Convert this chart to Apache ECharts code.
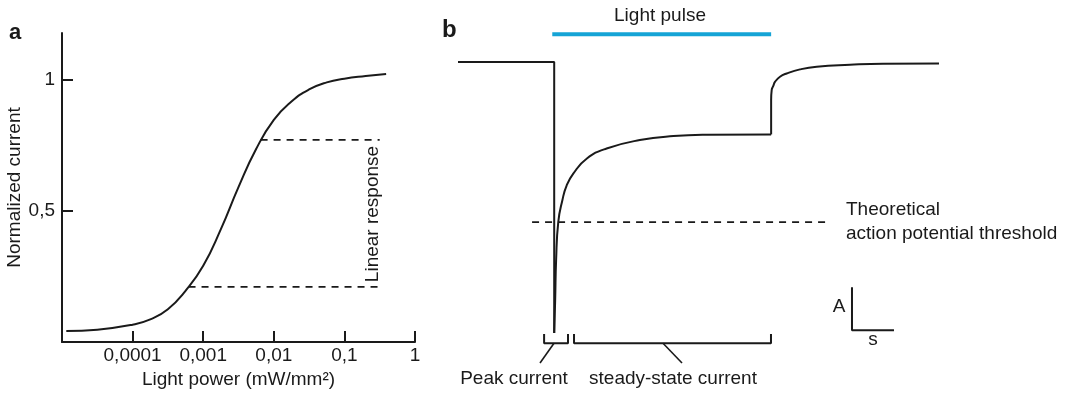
<!DOCTYPE html>
<html>
<head>
<meta charset="utf-8">
<script src="https://cdn.jsdelivr.net/npm/echarts@6/dist/echarts.min.js"></script>
<style>
    html, body {
        margin: 0;
        padding: 0;
        background: #ffffff;
    }
    #chart {
        width: 1070px;
        height: 394px;
    }
</style>
</head>
<body>
<div id="chart"></div>
<script>
// panel a: light power (mW/mm²) vs normalized current
const lightPower = [0.0000115, 0.0000316, 0.0001, 0.000178, 0.000316, 0.000562, 0.001, 0.00178, 0.00316,
    0.00562, 0.01, 0.0178, 0.0316, 0.0562, 0.1, 0.2, 0.39];
const normalizedCurrent = [0.042, 0.047, 0.066, 0.086, 0.125, 0.195, 0.29, 0.43, 0.59,
    0.735, 0.846, 0.916, 0.962, 0.989, 1.003, 1.013, 1.021];
const powerTicks = [0.0001, 0.001, 0.01, 0.1, 1];
const powerTickLabels = ['0,0001', '0,001', '0,01', '0,1', '1'];
const currentTicks = [0.5, 1];
const currentTickLabels = ['0,5', '1'];
const linearLow = [[0.00062, 0.21], [0.316, 0.21]];
const linearHigh = [[0.0065, 0.77], [0.316, 0.77]];

// panel b: photocurrent trace, time (a.u.) vs current (normalized to peak)
const traceStep = [[0, 0], [200, 0], [200, -1.0]];
const recoveryTime = [200, 202, 204, 208.5, 217, 226, 240, 268, 309, 378, 448, 517, 651];
const recoveryCurrent = [-1.0, -0.88, -0.73, -0.59, -0.51, -0.455, -0.411, -0.356, -0.319, -0.288, -0.273, -0.268, -0.267];
const offStep = [[651, -0.267], [651, -0.14]];
const offTime = [651, 652.2, 655.5, 659, 669.4, 683.4, 711, 745.7, 815, 883.6, 1000];
const offCurrent = [-0.14, -0.103, -0.088, -0.073, -0.054, -0.042, -0.027, -0.017, -0.01, -0.006, -0.005];
const lightPulse = [[196, 0.103], [651, 0.103]];
const threshold = [[154, -0.591], [769, -0.591]];
const peakBracket = [[179, -1.004], [179, -1.038], [228.7, -1.038], [228.7, -1.004]];
const peakPointer = [[199.6, -1.038], [170.5, -1.111]];
const steadyBracket = [[241.2, -1.004], [241.2, -1.038], [650.7, -1.038], [650.7, -1.004]];
const steadyPointer = [[426.2, -1.038], [465.7, -1.111]];
const scaleBar = [[819.1, -0.831], [819.1, -0.99], [906.4, -0.99]];

const ink = '#1a1a1a';
const font = 'Liberation Sans, Arial, Helvetica, sans-serif';

let chartDom = document.getElementById('chart');
let myChart = echarts.init(chartDom, null, {renderer: 'canvas'});

function zip(xs, ys) {
    let out = [];
    for (let i = 0; i < xs.length; i++) {
        out.push([xs[i], ys[i]]);
    }
    return out;
}

function powerLabel(value) {
    for (let i = 0; i < powerTicks.length; i++) {
        if (Math.abs(Math.log10(value) - Math.log10(powerTicks[i])) < 1e-6) {
            return powerTickLabels[i];
        }
    }
    return '';
}

function currentLabel(value) {
    for (let i = 0; i < currentTicks.length; i++) {
        if (Math.abs(value - currentTicks[i]) < 1e-6) {
            return currentTickLabels[i];
        }
    }
    return '';
}

function traceLine(data, smooth, extra) {
    return Object.assign({
        type: 'line',
        xAxisIndex: 1,
        yAxisIndex: 1,
        data: data,
        symbol: 'none',
        smooth: smooth,
        clip: false,
        silent: true,
        lineStyle: {color: ink, width: 2}
    }, extra || {});
}

function text(str, x, y, opts) {
    return {
        type: 'text',
        x: x,
        y: y,
        rotation: opts.rotation || 0,
        style: {
            text: str,
            fill: ink,
            font: (opts.weight || 'normal') + ' ' + (opts.size || 19) + 'px ' + font,
            align: opts.align || 'left',
            verticalAlign: 'middle'
        }
    };
}

let option = {
    animation: false,
    backgroundColor: '#ffffff',
    textStyle: {fontFamily: font, color: ink},
    grid: [
        {left: 62, top: 33, width: 353, height: 309},
        {left: 458, top: 35, width: 481, height: 325}
    ],
    xAxis: [{
        type: 'log',
        gridIndex: 0,
        logBase: 10,
        min: 0.00001,
        max: 1,
        splitNumber: 5,
        name: 'Light power (mW/mm²)',
        nameLocation: 'middle',
        nameGap: 27,
        nameTextStyle: {fontSize: 19, color: ink, fontFamily: font},
        axisLine: {lineStyle: {color: ink, width: 2}},
        axisTick: {inside: true, length: 11, lineStyle: {color: ink, width: 2}},
        axisLabel: {margin: 4, fontSize: 19, color: ink, fontFamily: font, formatter: powerLabel},
        splitLine: {show: false},
        minorTick: {show: false}
    }, {
        type: 'value',
        gridIndex: 1,
        min: 0,
        max: 1000,
        show: false
    }],
    yAxis: [{
        type: 'value',
        gridIndex: 0,
        min: 0,
        max: 1.177,
        name: 'Normalized current',
        nameLocation: 'middle',
        nameRotate: 90,
        nameGap: 35,
        nameTextStyle: {fontSize: 19, color: ink, fontFamily: font},
        axisLine: {show: true, lineStyle: {color: ink, width: 2}},
        axisTick: {show: true, inside: true, length: 11, customValues: currentTicks, lineStyle: {color: ink, width: 2}},
        axisLabel: {margin: 7, fontSize: 19, color: ink, fontFamily: font, customValues: currentTicks, formatter: currentLabel},
        splitLine: {show: false}
    }, {
        type: 'value',
        gridIndex: 1,
        min: -1.1,
        max: 0.1,
        show: false
    }],
    series: [
        {
            type: 'line',
            data: zip(lightPower, normalizedCurrent),
            symbol: 'none',
            smooth: 0.5,
            silent: true,
            lineStyle: {color: ink, width: 2}
        },
        {
            type: 'line',
            data: linearLow,
            symbol: 'none',
            silent: true,
            lineStyle: {color: ink, width: 1.8, type: [7, 6]}
        },
        {
            type: 'line',
            data: linearHigh,
            symbol: 'none',
            silent: true,
            lineStyle: {color: ink, width: 1.8, type: [7, 6]}
        },
        traceLine(traceStep, false),
        traceLine(zip(recoveryTime, recoveryCurrent), 0.5),
        traceLine(offStep, false),
        traceLine(zip(offTime, offCurrent), 0.5),
        traceLine(lightPulse, false, {lineStyle: {color: '#15a4d6', width: 4}}),
        traceLine(threshold, false, {lineStyle: {color: ink, width: 1.8, type: [7, 6]}}),
        traceLine(peakBracket, false),
        traceLine(peakPointer, false, {lineStyle: {color: ink, width: 1.6}}),
        traceLine(steadyBracket, false),
        traceLine(steadyPointer, false, {lineStyle: {color: ink, width: 1.6}}),
        traceLine(scaleBar, false)
    ],
    graphic: [
        text('a', 9, 33, {size: 22, weight: 'bold'}),
        text('b', 442, 30, {size: 24, weight: 'bold'}),
        text('Linear response', 373, 214, {align: 'center', rotation: Math.PI / 2}),
        text('Light pulse', 660, 16, {align: 'center'}),
        text('Theoretical', 846, 210, {}),
        text('action potential threshold', 846, 234, {}),
        text('A', 839, 307, {align: 'center'}),
        text('s', 873, 340, {align: 'center'}),
        text('Peak current', 514, 379, {align: 'center'}),
        text('steady-state current', 673, 379, {align: 'center'})
    ]
};

option && myChart.setOption(option);
</script>
</body>
</html>
